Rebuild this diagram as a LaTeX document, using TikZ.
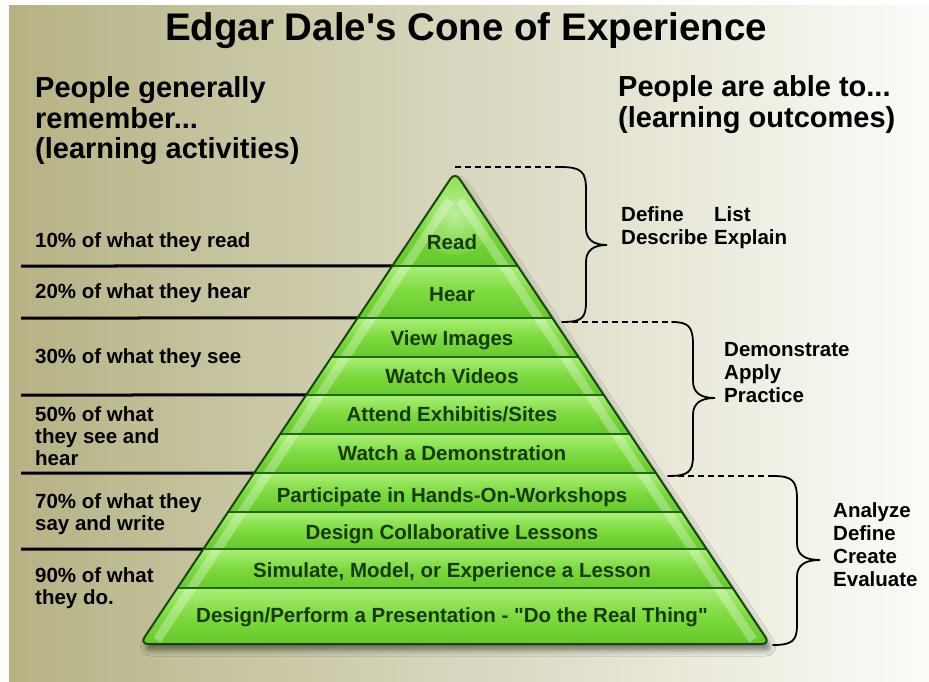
\documentclass[tikz,border=0pt]{standalone}
\usepackage{fontspec}
\newfontfamily\dalefont{Liberation Sans}
\usetikzlibrary{calc,shadows.blur}
\definecolor{bgL}{RGB}{182,178,132}
\definecolor{bgM}{RGB}{218,216,194}
\definecolor{bgR}{RGB}{252,252,249}
\definecolor{gTop}{RGB}{170,238,118}
\definecolor{gMid}{RGB}{124,218,62}
\definecolor{gBot}{RGB}{102,200,44}
\definecolor{gLine}{RGB}{30,105,20}
\definecolor{gEdge}{RGB}{22,70,12}
\definecolor{gText}{RGB}{24,58,12}
\begin{document}
\begin{tikzpicture}[x=1pt,y=-1pt,
 titlestyle/.style={font=\dalefont\fontsize{38.5}{40}\selectfont\bfseries, inner sep=0, anchor=base},
 head/.style={font=\dalefont\fontsize{29}{31}\selectfont\bfseries, inner sep=0, anchor=base west, align=left},
 lbl/.style={font=\dalefont\fontsize{20.5}{22}\selectfont\bfseries, inner sep=0, anchor=base west, align=left},
 outc/.style={font=\dalefont\fontsize{20.5}{23}\selectfont\bfseries, inner sep=0, anchor=base west, align=left},
 bandtext/.style={font=\dalefont\fontsize{20.5}{22}\selectfont\bfseries, text=gText, inner sep=0, anchor=base},
 rulestyle/.style={line width=3pt, black},
 sepstyle/.style={line width=2.5pt, gLine},
 bracestyle/.style={line width=1.8pt, black, line cap=round},
 dashline/.style={line width=1.8pt, black, dash pattern=on 6pt off 4pt}
]
\useasboundingbox (0,0) rectangle (929,682);
\fill[white] (0,0) rectangle (929,682);
\shade[left color=bgL, middle color=bgM, right color=bgR] (9,6) rectangle (929,681);

% title and headers (multi-line nodes are placed at the baseline of their last line)
\node[titlestyle] (title) at (466,41) {Edgar Dale's Cone of Experience};
\node[head] (hl) at (35,159) {People generally\\remember...\\(learning activities)};
\node[head] (hr) at (618,128) {People are able to...\\(learning outcomes)};

% pyramid geometry
\coordinate (apex) at (455,172);
\coordinate (bl) at (140,644);
\coordinate (br) at (770,644);

% left rules
\foreach \y/\n in {266/1,318/2,395/3,473/4,549/5}{
  \coordinate (ls\n) at (21,\y);
  \coordinate (le\n) at ($(apex)!{(\y-172)/472}!(bl)$);
  \draw[rulestyle] (ls\n) -- (le\n);
}

% shadow + pyramid body
\path[fill=gMid, rounded corners=8pt,
  blur shadow={shadow xshift=3pt, shadow yshift=-6pt, shadow blur radius=6pt, shadow opacity=50}]
  (apex) -- (br) -- (bl) -- cycle;
\begin{scope}
  \clip[rounded corners=8pt] (apex) -- (br) -- (bl) -- cycle;
  \foreach \a/\b in {172/266,266/318,318/357,357/395,395/434,434/473,473/512,512/549,549/588,588/644}{
    \shade[top color=gTop, bottom color=gBot, middle color=gMid] (100,\a) rectangle (810,\b);
  }
  \shade[inner color=white!70!gTop, outer color=gMid, opacity=0.6] (455,215) circle (40);
  \draw[white, opacity=0.3, line width=9pt] (450,200) -- (157,640);
  \draw[white, opacity=0.3, line width=9pt] (460,200) -- (753,640);
\end{scope}
\foreach \y in {266,318,357,395,434,473,512,549,588}{
  \draw[sepstyle] ($(apex)!{(\y-172)/472}!(bl)$) -- ($(apex)!{(\y-172)/472}!(br)$);
}
\draw[gEdge, line width=2pt, rounded corners=8pt] (apex) -- (br) -- (bl) -- cycle;

% pyramid labels
\node[bandtext] (b1) at (452,249) {Read};
\node[bandtext] (b2) at (452,301) {Hear};
\node[bandtext] (b3) at (452,345) {View Images};
\node[bandtext] (b4) at (452,383) {Watch Videos};
\node[bandtext] (b5) at (452,421) {Attend Exhibitis/Sites};
\node[bandtext] (b6) at (452,460) {Watch a Demonstration};
\node[bandtext] (b7) at (452,502) {Participate in Hands-On-Workshops};
\node[bandtext] (b8) at (452,539) {Design Collaborative Lessons};
\node[bandtext] (b9) at (452,577) {Simulate, Model, or Experience a Lesson};
\node[bandtext] (b10) at (452,622) {Design/Perform a Presentation - "Do the Real Thing"};

% left labels
\node[lbl] (l1) at (35,247) {10\% of what they read};
\node[lbl] (l2) at (35,298) {20\% of what they hear};
\node[lbl] (l3) at (35,363) {30\% of what they see};
\node[lbl] (l4) at (35,465) {50\% of what\\they see and\\hear};
\node[lbl] (l5) at (35,530) {70\% of what they\\say and write};
\node[lbl] (l6) at (35,604) {90\% of what\\they do.};

% braces
\coordinate (d1s) at (455,167); \coordinate (d1e) at (560,167);
\coordinate (d2s) at (562,322); \coordinate (d2e) at (672,322);
\coordinate (d3s) at (668,476); \coordinate (d3e) at (773,476);
\coordinate (d4e) at (773,645);
\draw[dashline] (d1s) -- (d1e);
\draw[dashline] (d2s) -- (d2e);
\draw[dashline] (d3s) -- (d3e);
\draw[bracestyle] (d1e) .. controls (582,167) and (586,172) .. (586,190) -- (586,228)
  .. controls (586,240) and (594,245) .. (607,245)
  .. controls (594,245) and (586,250) .. (586,262) -- (586,302)
  .. controls (586,318) and (582,322) .. (d2s);
\draw[bracestyle] (d2e) .. controls (689,322) and (693,327) .. (693,345) -- (693,381)
  .. controls (693,393) and (701,398) .. (715,398)
  .. controls (701,398) and (693,403) .. (693,415) -- (693,456)
  .. controls (693,472) and (688,476) .. (d3s);
\draw[bracestyle] (d3e) .. controls (793,476) and (797,481) .. (797,500) -- (797,543)
  .. controls (797,555) and (805,560) .. (820,560)
  .. controls (805,560) and (797,565) .. (797,577) -- (797,625)
  .. controls (797,641) and (792,645) .. (d4e);

% outcome labels
\node[outc] (o1a) at (621,244) {Define\\Describe};
\node[outc] (o1b) at (714,244) {List\\Explain};
\node[outc] (o2) at (724,402) {Demonstrate\\Apply\\Practice};
\node[outc] (o3) at (833,586) {Analyze\\Define\\Create\\Evaluate};
\end{tikzpicture}
\end{document}
